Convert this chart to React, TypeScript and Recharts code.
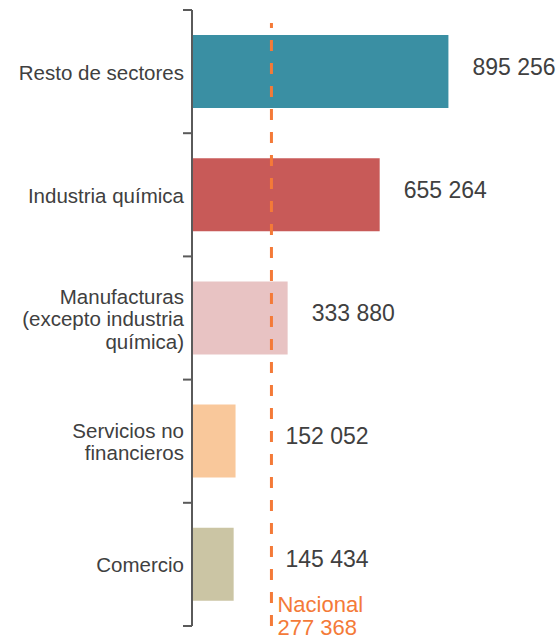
import React from 'react';
import { BarChart, Bar, XAxis, YAxis, Cell, LabelList, ReferenceLine } from 'recharts';

const categories = [
  'Resto de sectores',
  'Industria química',
  'Manufacturas\n(excepto industria\nquímica)',
  'Servicios no\nfinancieros',
  'Comercio',
];
const values = [895256, 655264, 333880, 152052, 145434];
const colors = ['#3a8fa3', '#c85a58', '#e8c3c3', '#f9c89b', '#cbc5a4'];
const NATIONAL = 277368;
const nationalLabel = ['Nacional', '277 368'];

const data = categories.map((name, i) => ({ name, value: values[i] }));

const W = 550;
const H = 631;
const MARGIN = { top: 2, right: 18, bottom: 13, left: 0 };
const BAND = (H - MARGIN.top - MARGIN.bottom) / categories.length;
const TEXT = '#404040';
const AXIS = '#5a5a5a';
const ORANGE = '#f47a38';
const FONT = '"Liberation Sans", Arial, sans-serif';

const fmt = (v: number) => v.toLocaleString('en-US').replace(/,/g, ' ');

const CategoryTick = (props: any) => {
  const { x, y, payload, index } = props;
  const lines: string[] = String(payload.value).split('\n');
  const lh = 22.5;
  const start = y - ((lines.length - 1) * lh) / 2;
  return (
    <g>
      <line x1={x - 9} x2={x} y1={y - BAND / 2} y2={y - BAND / 2} stroke={AXIS} strokeWidth={2} />
      {index === categories.length - 1 && (
        <line x1={x - 9} x2={x} y1={y + BAND / 2} y2={y + BAND / 2} stroke={AXIS} strokeWidth={2} />
      )}
      <text x={x - 8} y={start} textAnchor="end" dominantBaseline="central" fill={TEXT} fontSize={20.5} fontFamily={FONT}>
        {lines.map((l, i) => (
          <tspan key={i} x={x - 8} y={start + i * lh}>{l}</tspan>
        ))}
      </text>
    </g>
  );
};

const ValueLabel = (props: any) => {
  const { x, y, width, height, value } = props;
  const refX = x + (width * NATIONAL) / value;
  const tx = Math.max(x + width + 24, refX + 14);
  return (
    <text x={tx} y={y + height / 2 - 5} dominantBaseline="central" fill={TEXT} fontSize={23} fontFamily={FONT}>
      {fmt(value)}
    </text>
  );
};

const NationalLabel = (props: any) => {
  const { x, y, height } = props.viewBox;
  const bottom = y + height;
  return (
    <text fill={ORANGE} fontSize={22} fontFamily={FONT}>
      <tspan x={x + 6} y={bottom - 14}>{nationalLabel[0]}</tspan>
      <tspan x={x + 6} y={bottom + 9}>{nationalLabel[1]}</tspan>
    </text>
  );
};

const NationalLine = (props: any) => (
  <line
    x1={props.x1}
    x2={props.x2}
    y1={props.y1}
    y2={props.y2 + 13}
    stroke={ORANGE}
    strokeWidth={3}
    strokeDasharray="11 12"
  />
);

export default function App() {
  return (
    <div style={{ position: 'absolute', left: 8, top: 8 }}>
      <style>{`html,body{margin:0;overflow:hidden}`}</style>
      <BarChart width={W} height={H} data={data} layout="vertical" margin={MARGIN}>
        <XAxis type="number" domain={[0, 1215000]} hide />
        <YAxis
          type="category"
          dataKey="name"
          width={184}
          tickLine={false}
          tickSize={0}
          tickMargin={0}
          axisLine={{ stroke: AXIS, strokeWidth: 2 }}
          tick={<CategoryTick />}
          interval={0}
        />
        <Bar dataKey="value" barSize={73} isAnimationActive={false}>
          {data.map((d, i) => (
            <Cell key={d.name} fill={colors[i]} />
          ))}
          <LabelList dataKey="value" content={<ValueLabel />} />
        </Bar>
        <ReferenceLine
          x={NATIONAL}
          stroke={ORANGE}
          strokeWidth={3}
          strokeDasharray="11 12"
          shape={<NationalLine />}
          label={<NationalLabel />}
        />
      </BarChart>
    </div>
  );
}
